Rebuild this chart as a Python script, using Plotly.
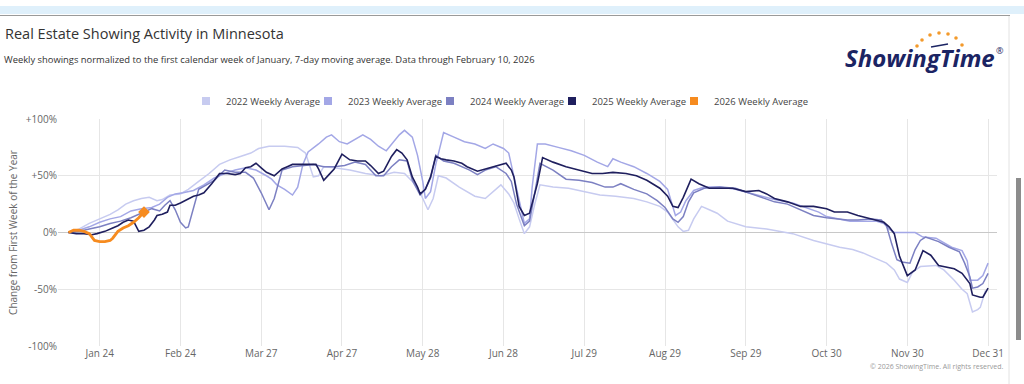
import numpy as np
import pandas as pd
import plotly.graph_objects as go

# ---------------- data (day of year, % change from first week) ----------------
days_2022 = [12,16,20,24,28,31,34,37,40,43,46,48,51,55,58,62,66,70,74,78,82,85,89,95,100,103,106,108,110,114,120,126,132,137,141,144,147,150,152,154,157,162,165,168,172,176,178,181,183,185,187,189,191,193,198,204,210,216,222,229,234,239,242,244,246,248,250,252,255,258,261,265,272,280,290,298,304,308,313,317,320,326,329,331,334,336,339,345,348,352,355,357,359,361,362,364]
vals_2022 = [0,3,8,12,16,20,25,28,30,31,28,29,33,34,38,45,52,60,64,67,70,74,76,76,75,70,49,50,58,57,55,52,50,53,52,45,35,20,30,50,48,40,36,32,30,38,42,34,26,12,-1,5,25,42,40,39,36,33,32,30,27,23,18,11,5,1,2,12,23,20,17,10,5,3,-1,-7,-11,-13,-15,-18,-21,-27,-33,-41,-44,-35,-30,-29,-33,-42,-50,-54,-70,-68,-66,-51]

days_2023 = [12,16,20,24,28,32,36,40,44,47,50,53,56,60,64,68,72,76,80,84,88,90,92,95,98,100,102,104,108,111,113,116,119,122,125,128,131,134,137,139,141,144,146,148,149,151,153,156,160,164,168,172,175,179,181,183,185,187,189,190,192,195,200,205,210,215,219,221,224,229,234,239,242,245,247,249,252,256,262,268,273,278,283,290,295,300,303,307,312,318,322,325,327,329,332,337,340,345,351,355,357,358,361,363,365]
vals_2023 = [0,2,5,9,12,14,19,21,22,25,31,34,35,37,42,48,52,55,57,55,50,47,42,38,33,40,60,71,78,84,86,80,78,82,86,82,76,72,80,86,90,84,68,45,30,36,60,88,84,80,78,74,78,74,70,49,27,8,12,40,78,78,75,72,68,62,58,65,62,58,52,45,38,15,18,28,37,40,40,38,35,32,29,26,22,18,14,12,10,10,10,8,3,0,0,0,-4,-5,-13,-16,-25,-42,-42,-38,-27]

days_2024 = [12,16,20,24,28,32,36,40,44,47,49,51,53,55,57,58,60,62,65,68,72,76,80,83,86,89,91,94,98,102,106,110,114,118,122,126,130,133,136,139,142,144,147,149,151,153,156,160,163,166,169,172,176,180,182,184,187,189,191,193,198,203,208,213,218,221,224,229,234,238,241,244,246,248,250,252,256,262,268,273,278,283,288,293,298,303,307,311,315,320,324,326,328,330,332,335,337,339,341,346,350,354,356,358,359,361,363,365]
vals_2024 = [0,1,3,5,8,10,13,17,21,19,24,28,20,9,4,5,22,38,42,46,55,53,53,48,35,20,30,55,58,59,60,58,58,59,62,60,50,50,58,64,63,46,33,38,48,68,63,61,58,55,51,55,58,52,45,25,6,10,35,61,55,47,46,44,40,40,43,38,34,28,22,12,9,14,27,35,39,40,39,35,31,27,25,20,15,13,12,11,11,12,11,6,-10,-24,-26,-27,-15,-7,-4,-8,-13,-17,-27,-39,-49,-48,-45,-36]

days_2025 = [12,15,18,21,23,26,29,31,33,35,37,38,39,41,43,45,46,48,50,51,53,55,58,60,62,64,67,70,73,76,78,80,82,84,86,88,91,94,96,98,102,105,107,108,110,112,114,117,120,123,126,128,131,133,136,138,140,142,144,146,147,149,151,153,155,157,160,163,165,169,172,176,180,182,183,185,187,189,192,194,198,203,208,213,217,221,226,230,234,239,242,244,246,248,251,254,258,262,267,272,277,280,283,288,293,298,303,306,311,315,320,325,327,329,331,334,337,340,343,346,352,355,358,359,362,363,365]
vals_2025 = [0,-1,-1,-2,-1,1,4,6,9,11,10,6,1,2,5,11,15,16,18,24,24,26,30,32,33,35,43,52,52,51,52,57,58,61,57,53,50,56,58,60,60,60,60,56,46,51,56,69,64,63,63,59,52,54,67,73,70,64,49,40,34,38,49,67,65,64,63,61,58,54,56,59,61,55,49,23,15,17,43,66,62,58,55,52,52,53,52,50,46,39,32,23,22,31,47,43,39,39,39,36,37,34,30,27,23,23,21,18,18,15,12,9,5,-1,-21,-38,-33,-16,-20,-29,-32,-36,-45,-55,-57,-57,-49]

days_2026 = [12,14,16,18,20,21,22,24,26,28,29,31,33,35,37,39,41]
vals_2026 = [0,2,2,1,-1,-4,-7,-8,-8,-7,-5,1,4,6,9,13,18]

series_names = ["2022 Weekly Average", "2023 Weekly Average", "2024 Weekly Average",
                "2025 Weekly Average", "2026 Weekly Average"]

tick_dates = ["01-24", "02-24", "03-27", "04-27", "05-28", "06-28",
              "07-29", "08-29", "09-29", "10-30", "11-30", "12-31"]
tick_labels = ["Jan 24", "Feb 24", "Mar 27", "Apr 27", "May 28", "Jun 28",
               "Jul 29", "Aug 29", "Sep 29", "Oct 30", "Nov 30", "Dec 31"]
y_ticks = [-100, -50, 0, 50, 100]
y_tick_labels = ["-100%", "-50%", "0%", "+50%", "+100%"]

# ---------------- styling ----------------
REF_YEAR = 2021
colors = ["#c7cbf0", "#a3a7e6", "#7c80c2", "#1f1f5e", "#f68b1f"]
widths = [1.5, 1.5, 1.5, 1.6, 2.8]
FONT = "Open Sans"


def to_dates(days):
    return pd.Timestamp(f"{REF_YEAR}-01-01") + pd.to_timedelta(np.array(days) - 1, unit="D")


all_days = [days_2022, days_2023, days_2024, days_2025, days_2026]
all_vals = [vals_2022, vals_2023, vals_2024, vals_2025, vals_2026]

fig = go.Figure()
for name, d, v, c, w in zip(series_names, all_days, all_vals, colors, widths):
    fig.add_trace(go.Scatter(x=to_dates(d), y=v, mode="lines", name=name,
                             line=dict(color=c, width=w), showlegend=False,
                             legendgroup=name, hoverinfo="skip"))
# last point marker for current year
fig.add_trace(go.Scatter(x=to_dates(days_2026[-1:]), y=vals_2026[-1:], mode="markers",
                         marker=dict(symbol="diamond", size=9, color=colors[4]),
                         showlegend=False, legendgroup=series_names[4], hoverinfo="skip"))
# legend entries with square symbols
for name, c in zip(series_names, colors):
    fig.add_trace(go.Scatter(x=[None], y=[None], mode="markers", name=name,
                             marker=dict(symbol="square", size=8, color=c),
                             legendgroup=name, showlegend=True))
# empty spacer entry so the last legend label is not clipped
fig.add_trace(go.Scatter(x=[None], y=[None], mode="markers", name=" ",
                         marker=dict(symbol="square", size=8, color="rgba(0,0,0,0)"),
                         showlegend=True, hoverinfo="skip"))

L, R, T, B = 58, 27, 119, 38
W, H = 1024 - L - R, 384 - T - B


def px(x):
    return (x - L) / W


def py(y):
    return (384 - B - y) / H


x_range = [pd.Timestamp(f"{REF_YEAR}-01-08"), pd.Timestamp(f"{REF_YEAR + 1}-01-03 10:00")]

fig.update_layout(
    width=1024, height=384, template="none",
    margin=dict(l=L, r=R, t=T, b=B),
    paper_bgcolor="white", plot_bgcolor="white",
    font=dict(family=FONT, color="#333333", size=10),
    title=dict(text="Real Estate Showing Activity in Minnesota", xref="container", yref="container",
               x=5 / 1024, y=1 - 34 / 384, xanchor="left", yanchor="middle",
               font=dict(family=FONT, size=14.5, color="#333333")),
    showlegend=True,
    legend=dict(orientation="h", xref="container", yref="container",
                x=186 / 1024, y=1 - 101 / 384, xanchor="left", yanchor="middle",
                font=dict(family=FONT, size=9.5, color="#444444"),
                itemwidth=30, entrywidth=77, entrywidthmode="pixels",
                bgcolor="rgba(0,0,0,0)", itemclick=False, itemdoubleclick=False),
    xaxis=dict(type="date", range=x_range, tickvals=[pd.Timestamp(f"{REF_YEAR}-{t}") for t in tick_dates],
               ticktext=tick_labels, showgrid=True, gridcolor="#e6e6e6", gridwidth=1,
               zeroline=False, showline=False, ticks="",
               tickfont=dict(family=FONT, size=10, color="#666666")),
    yaxis=dict(range=[-100, 100], tickvals=y_ticks, ticktext=y_tick_labels,
               showgrid=True, gridcolor="#e6e6e6", gridwidth=1,
               zeroline=True, zerolinecolor="#c8c8c8", zerolinewidth=1,
               showline=False, ticks="",
               tickfont=dict(family=FONT, size=10, color="#666666")),
)
fig.update_yaxes(title=dict(text="Change from First Week of the Year", standoff=6,
                            font=dict(family=FONT, size=10, color="#666666")))

ann = []
ann.append(dict(text="Weekly showings normalized to the first calendar week of January, 7-day moving average. Data through February 10, 2026",
                x=px(2), y=py(60), xref="paper", yref="paper", xanchor="left", yanchor="middle",
                showarrow=False, font=dict(family=FONT, size=9.4, color="#333333")))
ann.append(dict(text="© 2026 ShowingTime. All rights reserved.", x=px(1006), y=py(366),
                xref="paper", yref="paper", xanchor="right", yanchor="middle", showarrow=False,
                font=dict(family=FONT, size=7, color="#999999")))
ann.append(dict(text="<b><i>ShowingTime</i></b>", x=px(920), y=py(58), xref="paper", yref="paper",
                xanchor="center", yanchor="middle", showarrow=False,
                font=dict(family="Open Sans", size=24, color="#1b2463")))
ann.append(dict(text="®", x=px(1000), y=py(50), xref="paper", yref="paper",
                xanchor="center", yanchor="middle", showarrow=False,
                font=dict(family=FONT, size=9, color="#1b2463")))

shapes = []
# top band and rule
shapes.append(dict(type="rect", xref="paper", yref="paper", x0=px(0), x1=px(1024), y0=py(14), y1=py(6),
                   fillcolor="#dff0fb", line=dict(width=0), layer="above"))
shapes.append(dict(type="line", xref="paper", yref="paper", x0=px(0), x1=px(1010), y0=py(15.5), y1=py(15.5),
                   line=dict(color="#9a9a9a", width=1)))
# right frame line and scrollbar
shapes.append(dict(type="line", xref="paper", yref="paper", x0=px(1009), x1=px(1009), y0=py(16), y1=py(384),
                   line=dict(color="#e2e2e2", width=1)))
shapes.append(dict(type="rect", xref="paper", yref="paper", x0=px(1016), x1=px(1021), y0=py(340), y1=py(178),
                   fillcolor="#8c8c8c", line=dict(width=0)))
# logo dots
for (dx, dy) in [(917, 46), (922, 40), (930, 35), (939, 33), (948, 34), (956, 38), (962, 45)]:
    shapes.append(dict(type="circle", xref="paper", yref="paper",
                       x0=px(dx - 1.8), x1=px(dx + 1.8), y0=py(dy + 1.8), y1=py(dy - 1.8),
                       fillcolor="#f39a2b", line=dict(width=0)))
shapes.append(dict(type="line", xref="paper", yref="paper", x0=px(931), x1=px(948), y0=py(47), y1=py(44),
                   line=dict(color="#1b2463", width=1.5)))

fig.update_layout(annotations=ann, shapes=shapes)

fig.write_html("out.html", config={"displayModeBar": False},
               post_script="document.body.style.margin='0';")
